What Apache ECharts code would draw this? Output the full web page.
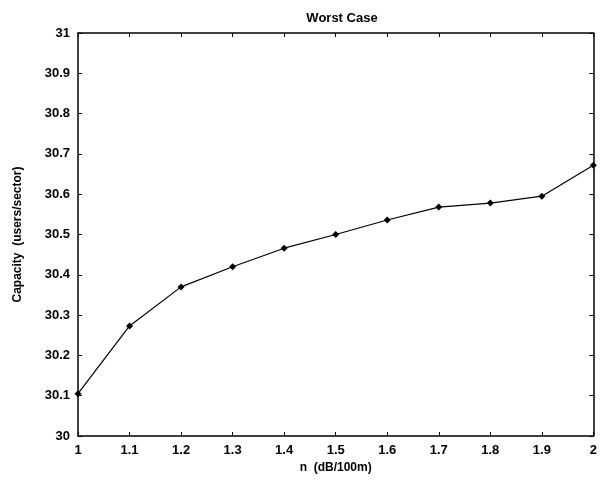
<!DOCTYPE html>
<html>
<head>
<meta charset="utf-8">
<script src="https://cdn.jsdelivr.net/npm/echarts@6/dist/echarts.min.js"></script>
<style>
    html, body { margin: 0; padding: 0; background: #fff; }
    #worstCase { width: 600px; height: 493px; }
</style>
</head>
<body>
<div id="worstCase"></div>
<script>
var alphaValues = [1, 1.1, 1.2, 1.3, 1.4, 1.5, 1.6, 1.7, 1.8, 1.9, 2];
var capacityValues = [30.105, 30.273, 30.37, 30.42, 30.466, 30.5, 30.536, 30.568, 30.578, 30.595, 30.672];
var xTickLabels = ['1', '1.1', '1.2', '1.3', '1.4', '1.5', '1.6', '1.7', '1.8', '1.9', '2'];
var yTickLabels = ['30', '30.1', '30.2', '30.3', '30.4', '30.5', '30.6', '30.7', '30.8', '30.9', '31'];

function tickLabel(list, start, v) {
    var i = Math.round((v - start) * 10);
    return list[i] || '';
}

function drawChart() {
    var chart = echarts.init(document.getElementById('worstCase'));
    var pts = [];
    for (var i = 0; i < alphaValues.length; i++) {
        pts.push([alphaValues[i], capacityValues[i]]);
    }
    var fontName = 'Liberation Sans';
    var axisBlack = { show: true, lineStyle: { color: '#000', width: 1.5 } };

    var option = {
        backgroundColor: '#fff',
        animation: false,
        title: {
            text: 'Worst Case',
            left: 337,
            textAlign: 'center',
            top: 7,
            textStyle: { fontFamily: fontName, fontSize: 13, fontWeight: 'bold', color: '#000' }
        },
        grid: { left: 78, right: 3, top: 33, bottom: 57 },
        xAxis: [{
            type: 'value',
            min: 1,
            max: 2,
            interval: 0.1,
            name: 'n  (dB/100m)',
            nameLocation: 'middle',
            nameGap: 26,
            nameTextStyle: { fontFamily: fontName, fontSize: 12, fontWeight: 'bold', color: '#000' },
            axisLine: axisBlack,
            axisTick: { show: true, inside: true, length: 4, lineStyle: { color: '#000' } },
            axisLabel: {
                fontFamily: fontName, fontSize: 13, fontWeight: 'bold', color: '#000', margin: 8,
                formatter: function (v) { return tickLabel(xTickLabels, 1, v); }
            },
            splitLine: { show: false }
        }, {
            type: 'value',
            position: 'top',
            min: 1,
            max: 2,
            interval: 0.1,
            axisLine: axisBlack,
            axisTick: { show: true, inside: true, length: 4, lineStyle: { color: '#000' } },
            axisLabel: { show: false },
            splitLine: { show: false }
        }],
        yAxis: [{
            type: 'value',
            min: 30,
            max: 31,
            interval: 0.1,
            name: 'Capacity  (users/sector)',
            nameLocation: 'middle',
            nameGap: 54,
            nameTextStyle: { fontFamily: fontName, fontSize: 12, fontWeight: 'bold', color: '#000' },
            axisLine: axisBlack,
            axisTick: { show: true, inside: true, length: 4, lineStyle: { color: '#000' } },
            axisLabel: {
                fontFamily: fontName, fontSize: 13, fontWeight: 'bold', color: '#000', margin: 8,
                formatter: function (v) { return tickLabel(yTickLabels, 30, v); }
            },
            splitLine: { show: false }
        }, {
            type: 'value',
            position: 'right',
            min: 30,
            max: 31,
            interval: 0.1,
            axisLine: axisBlack,
            axisTick: { show: true, inside: true, length: 4, lineStyle: { color: '#000' } },
            axisLabel: { show: false },
            splitLine: { show: false }
        }],
        series: [{
            type: 'line',
            xAxisIndex: 0,
            yAxisIndex: 0,
            data: pts,
            symbol: 'diamond',
            symbolSize: 7,
            showAllSymbol: true,
            lineStyle: { color: '#000', width: 1.2 },
            itemStyle: { color: '#000' }
        }]
    };
    chart.setOption(option);
}

drawChart();
</script>
</body>
</html>
